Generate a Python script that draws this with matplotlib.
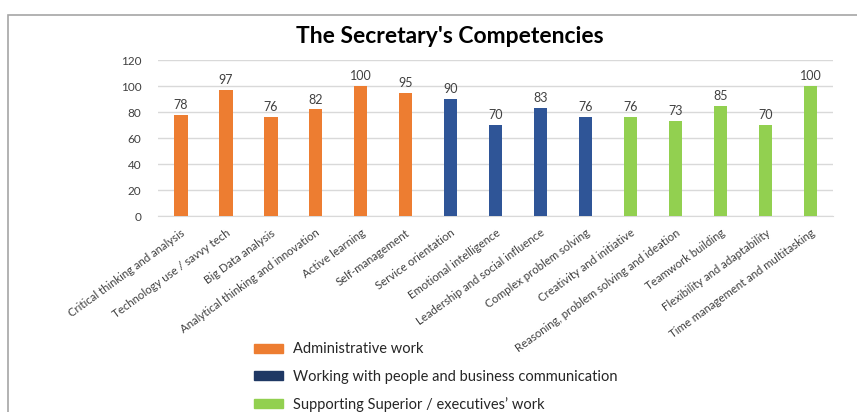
import matplotlib.pyplot as plt
from matplotlib.patches import Patch, Rectangle

plt.rcParams['font.family'] = ['Lato', 'DejaVu Sans']

competencies = [
    'Critical thinking and analysis', 'Technology use / savvy tech', 'Big Data analysis',
    'Analytical thinking and innovation', 'Active learning', 'Self-management',
    'Service orientation', 'Emotional intelligence', 'Leadership and social influence',
    'Complex problem solving', 'Creativity and initiative',
    'Reasoning, problem solving and ideation', 'Teamwork building',
    'Flexibility and adaptability', 'Time management and multitasking',
]
scores = [78, 97, 76, 82, 100, 95, 90, 70, 83, 76, 76, 73, 85, 70, 100]
groups = [0, 0, 0, 0, 0, 0, 1, 1, 1, 1, 2, 2, 2, 2, 2]
group_names = [
    'Administrative work',
    'Working with people and business communication',
    'Supporting Superior / executives\u2019 work',
]
bar_colors = ['#ED7D31', '#2F5597', '#92D050']
legend_colors = ['#ED7D31', '#1F3864', '#92D050']

fig = plt.figure(figsize=(8.57, 4.12), dpi=100)
ax = fig.add_axes([0.1844, 0.4757, 0.7876, 0.3786])

# outer chart frame
fig.patches.append(Rectangle((8 / 857, -0.1), 1.0, 1.0636, transform=fig.transFigure,
                             fill=False, edgecolor='#A6A6A6', lw=1.2))

x = range(len(scores))
ax.bar(x, scores, width=0.31, color=[bar_colors[g] for g in groups], zorder=3)
for i, v in enumerate(scores):
    ax.text(i, v + 3, str(v), ha='center', va='bottom', fontsize=9, color='#404040')

ax.set_xlim(-0.5, len(scores) - 0.5)
ax.set_ylim(0, 120)
ax.set_yticks(range(0, 121, 20))
ax.grid(axis='y', color='#D9D9D9', lw=1, zorder=0)
for s in ['top', 'right', 'left']:
    ax.spines[s].set_visible(False)
ax.spines['bottom'].set_color('#D9D9D9')
ax.tick_params(axis='both', length=0, labelsize=8.5, colors='#404040')
ax.tick_params(axis='y', pad=12)
ax.tick_params(axis='x', pad=8)
ax.set_xticks(list(x))
ax.set_xticklabels(competencies, rotation=36, ha='right', rotation_mode='anchor',
                   fontsize=8.2, color='#404040')

fig.text(0.525, 0.912, "The Secretary's Competencies", ha='center', va='center',
         fontsize=16.5, fontweight='bold', color='black')

handles = [Patch(color=c) for c in legend_colors]
fig.legend(handles, group_names, loc='upper left', bbox_to_anchor=(0.2927, 0.176),
           frameon=False, fontsize=10.5, handlelength=2.0, handleheight=0.55,
           labelspacing=0.9, handletextpad=0.7, labelcolor='#262626',
           borderpad=0.2, borderaxespad=0)

fig.savefig('out.png', dpi=100)
